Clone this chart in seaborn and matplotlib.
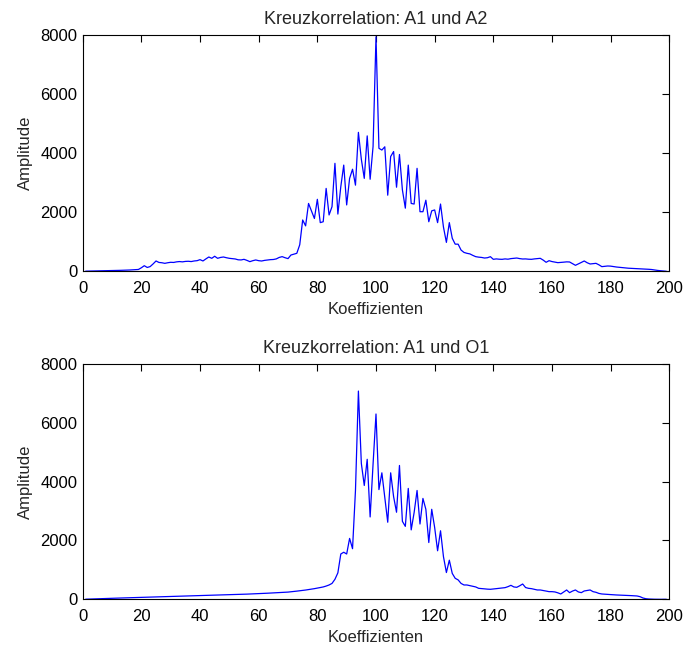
import numpy as np
import pandas as pd
import matplotlib
matplotlib.use("Agg")
import matplotlib.pyplot as plt
import seaborn as sns

coeff = list(range(1, 200))

a1_a2 = [5, 8, 10, 12, 14, 16, 18, 20, 22, 25, 28, 30, 33, 36, 40, 44, 50, 55, 62,
         120, 190, 130, 160, 250, 350, 300, 290, 270, 290, 305, 300, 320, 330, 320, 335, 340, 330, 350, 360,
         395, 350, 420, 485, 440, 510, 440, 470, 485, 460, 440, 430, 418, 390, 385, 406, 370, 327, 360, 384,
         360, 349, 370, 384, 395, 400, 420, 470, 497, 460, 430, 552, 580, 610, 900, 1740, 1540, 2300, 2050, 1790,
         2440, 1650, 1680, 2810, 1910, 2190, 3660, 1940, 2870, 3600, 2250, 3150, 3460, 2920, 4710, 3800, 3150, 4590, 3120, 4230,
         7950, 4170, 4110, 4220, 2580, 3890, 4060, 2850, 3960, 2760, 2140, 3600, 2300, 2280, 3490, 2020, 2020, 2410, 1680, 2050,
         2080, 1650, 2280, 1500, 980, 1650, 1120, 920, 920, 720, 640, 610, 590, 540, 496, 480, 470, 450, 460, 496,
         406, 420, 410, 406, 420, 410, 430, 440, 450, 430, 417, 420, 410, 406, 420, 430, 440, 380, 305, 360,
         330, 310, 293, 300, 310, 320, 316, 260, 203, 250, 300, 350, 290, 248, 260, 270, 220, 158, 170, 180,
         175, 160, 145, 135, 125, 115, 105, 100, 95, 90, 85, 80, 75, 68, 60, 45, 30, 20, 10, 0]

a1_o1 = [3, 6, 10, 13, 17, 20, 24, 27, 31, 34, 38, 41, 44, 47, 51, 54, 58, 61, 64,
         68, 71, 74, 77, 80, 83, 86, 89, 92, 95, 97, 100, 103, 106, 108, 111, 114, 117, 119, 122,
         124, 127, 130, 133, 136, 139, 142, 145, 148, 151, 155, 158, 161, 165, 168, 172, 176, 180, 184, 188,
         192, 197, 202, 207, 212, 217, 222, 226, 230, 237, 245, 255, 265, 278, 290, 302, 315, 330, 345, 362,
         380, 400, 420, 450, 487, 540, 680, 900, 1540, 1600, 1540, 2070, 1720, 3700, 7080, 4620, 3870, 4760, 2800, 4600,
         6300, 3730, 4300, 3450, 2620, 4300, 3490, 2960, 4550, 2650, 2480, 3770, 2360, 2950, 3700, 2560, 3430, 3060, 1930, 3060,
         2440, 1650, 2330, 1450, 910, 1330, 880, 714, 660, 540, 487, 487, 465, 440, 420, 373, 365, 355, 345, 340,
         350, 362, 375, 385, 396, 430, 475, 420, 408, 460, 520, 400, 373, 362, 340, 317, 317, 300, 280, 260,
         260, 250, 220, 181, 250, 317, 226, 280, 317, 250, 226, 283, 300, 317, 260, 238, 200, 181, 175, 170,
         160, 152, 147, 143, 140, 136, 130, 125, 118, 113, 90, 45, 20, 10, 5, 2, 0, 0, 0, 0]

titles = ["Kreuzkorrelation: A1 und A2", "Kreuzkorrelation: A1 und O1"]
xticks = [0, 20, 40, 60, 80, 100, 120, 140, 160, 180, 200]
yticks = [0, 2000, 4000, 6000, 8000]

sns.set_style("white")
plt.rcParams['font.family'] = ['Liberation Sans', 'DejaVu Sans']

fig = plt.figure(figsize=(6.84, 6.46), dpi=100)
W, H = 684, 646
rects = [(82.7, 35.3, 669.3, 271.3), (82.7, 364.0, 669.3, 599.3)]

for i, (series, title) in enumerate(zip([a1_a2, a1_o1], titles)):
    l, t, r, b = rects[i]
    ax = fig.add_axes([l / W, 1 - b / H, (r - l) / W, (b - t) / H])
    df = pd.DataFrame({"Koeffizienten": coeff, "Amplitude": series})
    sns.lineplot(data=df, x="Koeffizienten", y="Amplitude", ax=ax,
                 color=(0, 0, 1), linewidth=0.9)
    ax.set_xlim(0, 200)
    ax.set_ylim(0, 8000)
    ax.set_xticks(xticks)
    ax.set_yticks(yticks)
    ax.tick_params(direction="in", length=5, width=0.8, top=True, right=True,
                   labelsize=12, colors="black")
    ax.tick_params(axis="x", pad=7)
    ax.tick_params(axis="y", pad=4)
    for s in ax.spines.values():
        s.set_visible(True)
        s.set_color("black")
        s.set_linewidth(0.8)
    ax.set_title(title, fontsize=13, pad=8)
    ax.set_xlabel("Koeffizienten", fontsize=12, labelpad=4)
    ax.set_ylabel("Amplitude", fontsize=12, labelpad=5)
    ax.grid(False)

fig.savefig("out.png", dpi=100, facecolor="white")
